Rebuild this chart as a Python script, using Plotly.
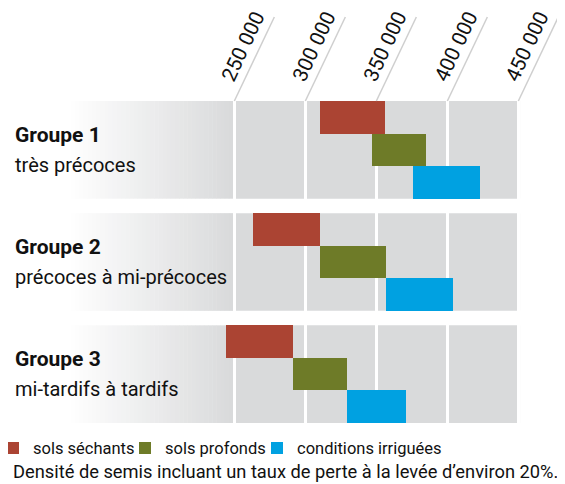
import plotly.graph_objects as go

# ---- data ----
groups = ["Groupe 1", "Groupe 2", "Groupe 3"]
subtitles = ["très précoces", "précoces à mi-précoces", "mi-tardifs à tardifs"]
series_names = ["sols séchants", "sols profonds", "conditions irriguées"]
sechants_start = [310000, 263000, 244000]
sechants_end = [356000, 310000, 291000]
profonds_start = [347000, 310000, 291000]
profonds_end = [385000, 357000, 329000]
irrigues_start = [376000, 357000, 329000]
irrigues_end = [423000, 404000, 371000]
tick_vals = [250000, 300000, 350000, 400000, 450000]
tick_text = ["250 000", "300 000", "350 000", "400 000", "450 000"]
footnote = "Densité de semis incluant un taux de perte à la levée d’environ 20%."

colors = ["#ab4433", "#6e7b28", "#00a1e1"]
legend_widths = [102, 102, 160]
band_gray = (217, 218, 219)
FONT = "Roboto, Liberation Sans, sans-serif"
INK = "#111111"

GAP = 0.444
STEP = 3 + GAP
W, H = 557, 476
X_MIN, X_MAX = 90600, 482850
BAND_END = 451200
PX = W / (X_MAX - X_MIN)  # pixels per unit

def row(g, k):
    return g * STEP + k

fig = go.Figure()
starts = [sechants_start, profonds_start, irrigues_start]
ends = [sechants_end, profonds_end, irrigues_end]
for k in range(3):
    fig.add_trace(go.Bar(
        name=series_names[k],
        orientation="h",
        y=[row(g, k) for g in range(3)],
        base=starts[k],
        x=[e - s for s, e in zip(starts[k], ends[k])],
        width=1,
        marker=dict(color=colors[k], line=dict(width=0)),
        legendwidth=legend_widths[k],
        hoverinfo="skip",
    ))

shapes = []
# gray bands with a white-to-gray gradient on the left
grad_px0, grad_px1, n = 59, 225, 40
for g in range(3):
    y0, y1 = row(g, 0) - 0.5, row(g, 2) + 0.5
    for i in range(n):
        t = (i + 0.5) / n
        c = tuple(round(255 + (b - 255) * t) for b in band_gray)
        xa = X_MIN + (grad_px0 + (grad_px1 - grad_px0) * i / n) / PX
        xb = X_MIN + (grad_px0 + (grad_px1 - grad_px0) * (i + 1) / n) / PX + 300
        shapes.append(dict(type="rect", xref="x", yref="y", x0=xa, x1=xb, y0=y0, y1=y1,
                           fillcolor="rgb(%d,%d,%d)" % c, line=dict(width=0), layer="below"))
    shapes.append(dict(type="rect", xref="x", yref="y", x0=X_MIN + grad_px1 / PX, x1=BAND_END,
                       y0=y0, y1=y1, fillcolor="rgb(%d,%d,%d)" % band_gray,
                       line=dict(width=0), layer="below"))
# leader lines along the slanted tick labels
for v in tick_vals:
    shapes.append(dict(type="line", xref="x", xsizemode="pixel", xanchor=v, x0=0, x1=40,
                       yref="paper", ysizemode="pixel", yanchor=1, y0=0, y1=84,
                       line=dict(color="#cfcfcf", width=1.5)))

annotations = []
for g in range(3):
    annotations.append(dict(
        xref="paper", x=0, xanchor="left", xshift=5,
        yref="y", y=row(g, 1), yanchor="middle", yshift=15,
        text="<b>%s</b>" % groups[g], showarrow=False, align="left",
        font=dict(family=FONT, size=21, color=INK),
    ))
    annotations.append(dict(
        xref="paper", x=0, xanchor="left", xshift=5,
        yref="y", y=row(g, 1), yanchor="middle", yshift=-15,
        text=subtitles[g], showarrow=False, align="left",
        font=dict(family=FONT, size=20, color=INK),
    ))
annotations.append(dict(
    xref="paper", x=0, xanchor="left", xshift=3,
    yref="paper", y=-0.152, yanchor="middle",
    text=footnote, showarrow=False,
    font=dict(family=FONT, size=18.3, color=INK),
))

fig.update_layout(
    width=W, height=H,
    margin=dict(l=0, r=0, t=89, b=61),
    paper_bgcolor="white", plot_bgcolor="white",
    font=dict(family=FONT, color=INK),
    barmode="overlay",
    bargap=0,
    xaxis=dict(side="top", range=[X_MIN, X_MAX], tickvals=tick_vals, ticktext=tick_text,
               tickangle=-65, tickfont=dict(size=20.5, family=FONT, color=INK),
               ticklabeloverflow="allow", ticklabelshift=-10, ticklabelstandoff=7,
               showgrid=True, gridcolor="white", gridwidth=2.5, zeroline=False,
               showline=False, ticks=""),
    yaxis=dict(range=[row(2, 2) + 0.5, -0.5], showticklabels=False, showgrid=False,
               zeroline=False, showline=False, ticks=""),
    showlegend=True,
    legend=dict(orientation="h", x=0, xanchor="left", y=-0.024, yanchor="top",
                font=dict(size=16.5, family=FONT, color=INK),
                itemwidth=30, indentation=-15,
                traceorder="normal", bgcolor="rgba(0,0,0,0)"),
    shapes=shapes,
    annotations=annotations,
)

fig.write_html("out.html")
